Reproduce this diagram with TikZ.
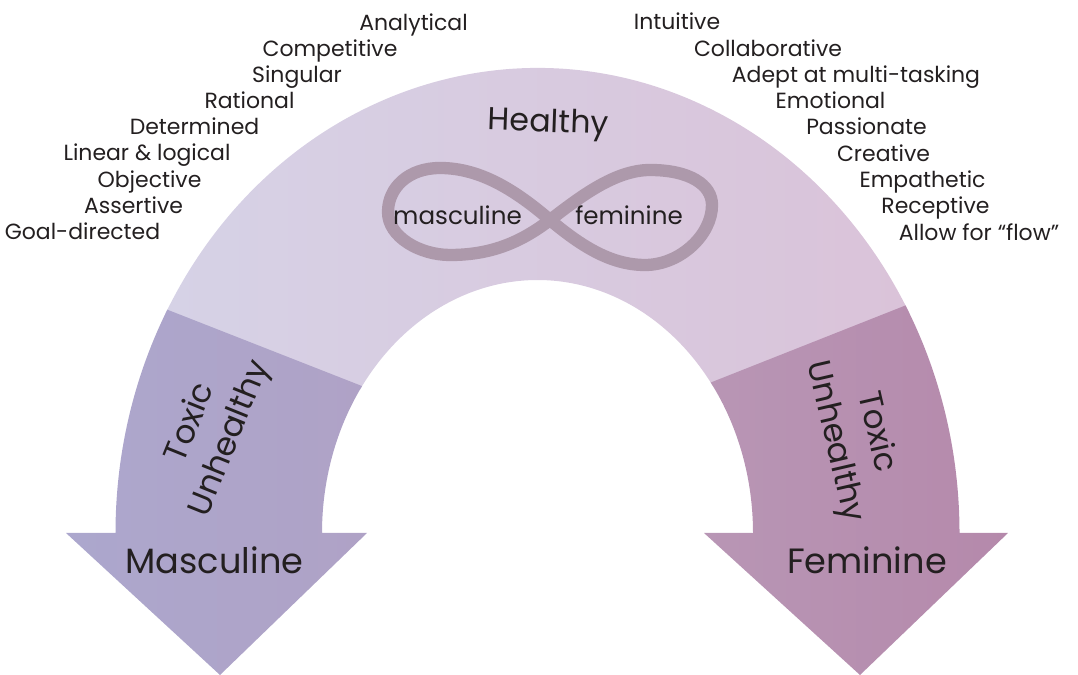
\documentclass[tikz,border=0pt]{standalone}
\usepackage{fontspec}
\setmainfont{Poppins}
\usepackage{xcolor}
\usepackage{tikz}
\usetikzlibrary{positioning, calc}
\definecolor{healthyleft}{HTML}{D6D2E6}
\definecolor{healthyright}{HTML}{DAC3D9}
\definecolor{mascleft}{HTML}{ACA7CD}
\definecolor{mascright}{HTML}{AFA2C6}
\definecolor{femleft}{HTML}{B896B5}
\definecolor{femright}{HTML}{B589AB}
\definecolor{ribbon}{HTML}{AD99AB}
\definecolor{ink}{HTML}{231F20}
\tikzstyle{trait} = [text=ink, font=\fontsize{12.5}{14}\selectfont, anchor=base, inner sep=0pt]
\tikzstyle{loopword} = [text=ink, font=\fontsize{14}{16}\selectfont, anchor=base, inner sep=0pt]
\tikzstyle{heading} = [text=ink, font=\fontsize{18}{22}\selectfont, anchor=base, inner sep=0pt]
\tikzstyle{pole} = [text=ink, font=\fontsize{20}{24}\selectfont, anchor=base, inner sep=0pt]
\tikzstyle{toxicnote} = [text=ink, font=\fontsize{18.5}{24}\selectfont, align=center, inner sep=0pt]
\tikzstyle{band} = [line width=7pt, ribbon]

\begin{document}
\begin{tikzpicture}[x=0.02cm, y=0.02cm]
      \useasboundingbox (0,0) rectangle (1078,675);
      \coordinate (C) at (537.5,142);
      % Healthy part of the arch
      \path [left color=healthyleft, right color=healthyright]
        ($(C)+(152.3:422 and 465)$) arc[start angle=152.3, end angle=28.3, x radius=422, y radius=465]
        -- ($(C)+(35.5:215.5 and 253)$) arc[start angle=35.5, end angle=145.5, x radius=215.5, y radius=253] -- cycle;
      % Toxic arrows
      \path [left color=mascleft, right color=mascright]
        ($(C)+(151.3:422 and 465)$) arc[start angle=151.3, end angle=180, x radius=422, y radius=465]
        -- (66,142) -- (220,0) -- (367,142) -- (322,142)
        arc[start angle=180, end angle=144.5, x radius=215.5, y radius=253] -- cycle;
      \path [left color=femleft, right color=femright]
        ($(C)+(29.3:422 and 465)$) arc[start angle=29.3, end angle=0, x radius=422, y radius=465]
        -- (1008,142) -- (860,0) -- (704,142) -- (753,142)
        arc[start angle=0, end angle=36.5, x radius=215.5, y radius=253] -- cycle;
      % Infinity ribbon
      \coordinate (cross) at (550,455);
      \draw [band] (cross) .. controls (515,485) and (480,507) .. (440,507)
        .. controls (408,507) and (388,487) .. (388,463)
        .. controls (388,438) and (420,420) .. (450,420)
        .. controls (490,420) and (520,432) .. (cross)
        .. controls (580,478) and (615,505) .. (650,505)
        .. controls (690,505) and (712,490) .. (712,470)
        .. controls (712,440) and (680,410) .. (645,410)
        .. controls (610,410) and (580,430) .. (cross) -- cycle;
      % Labels on the arch
      \node [heading, rotate=-2] (healthy) at (548,543) {Healthy};
      \node [loopword] (mascloop) at (457.5,450) {masculine};
      \node [loopword] (femloop) at (629,450) {feminine};
      \node [pole] (masc) at (214.5,101) {Masculine};
      \node [pole] (fem) at (867,101) {Feminine};
      \node [toxicnote, rotate=68] (masctoxic) at (211,244) {Toxic\\Unhealthy};
      \node [toxicnote, rotate=-77] (femtoxic) at (855,238) {Toxic\\Unhealthy};
      % Masculine traits
      \node [trait] (analytical) at (413.5,644.5) {Analytical};
      \node [trait] (competitive) at (330,618) {Competitive};
      \node [trait] (singular) at (297,592) {Singular};
      \node [trait] (rational) at (249.5,566) {Rational};
      \node [trait] (determined) at (194.5,540) {Determined};
      \node [trait] (linear) at (147,514) {Linear \& logical};
      \node [trait] (objective) at (149.5,487) {Objective};
      \node [trait] (assertive) at (133.5,461) {Assertive};
      \node [trait] (goal) at (82.5,435) {Goal-directed};
      % Feminine traits
      \node [trait] (intuitive) at (677,645) {Intuitive};
      \node [trait] (collab) at (768,618) {Collaborative};
      \node [trait] (multitask) at (856,592) {Adept at multi-tasking};
      \node [trait] (emotional) at (830.5,566) {Emotional};
      \node [trait] (passionate) at (866.5,540) {Passionate};
      \node [trait] (creative) at (883.5,513) {Creative};
      \node [trait] (empathetic) at (922.5,487) {Empathetic};
      \node [trait] (receptive) at (935.5,461) {Receptive};
      \node [trait] (flow) at (979,434) {Allow for “flow”};
  \end{tikzpicture}
\end{document}
